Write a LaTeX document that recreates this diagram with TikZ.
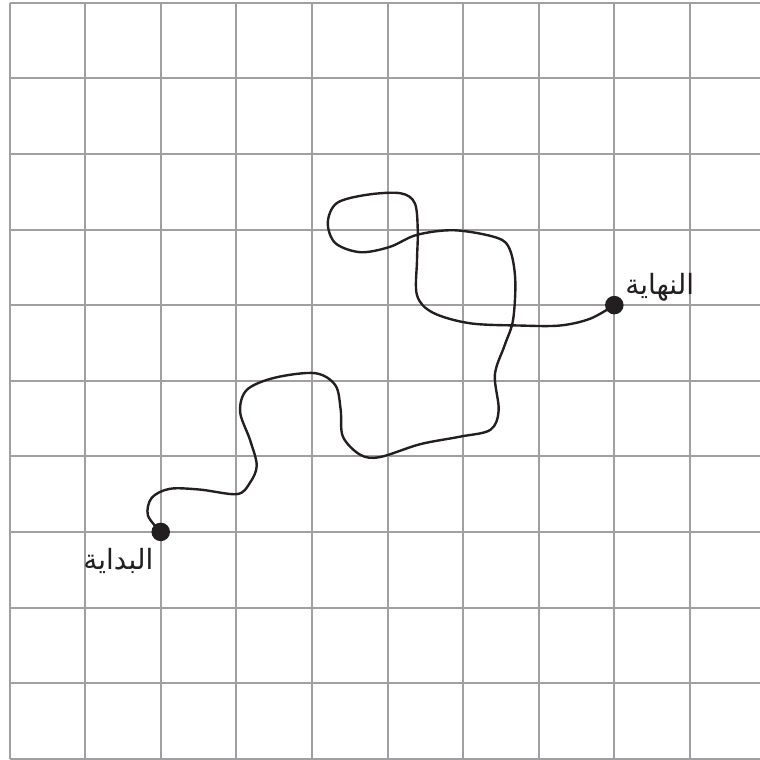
\documentclass[tikz,border=0pt]{standalone}
\usepackage{fontspec}
\newfontfamily\arabicfont[Script=Arabic]{DejaVu Sans}
\TeXXeTstate=1
\definecolor{gridgray}{HTML}{A0A0A3}
\definecolor{pathink}{HTML}{231F20}
\tikzset{
  gridline/.style={draw=gridgray, line width=0.75pt},
  walkline/.style={draw=pathink, line width=0.9pt, line cap=round},
  enddot/.style={circle, fill=pathink, inner sep=0pt, minimum size=0.245cm},
  arlabel/.style={font=\arabicfont\fontsize{10.5}{13}\selectfont, text=pathink, inner sep=0pt}
}
\begin{document}
\begin{tikzpicture}
\useasboundingbox (-0.126,-0.017) rectangle (9.927,10.036);
% grid
\foreach \x in {0,...,9}
  \draw[gridline] (\x,0) -- (\x,10);
\foreach \y in {0,...,10}
  \draw[gridline] (0,\y) -- (9.927,\y);
% start and end
\coordinate (start) at (2,3);
\coordinate (finish) at (8,6);
\draw[walkline] plot[smooth, tension=0.55] coordinates {
  (start) (1.83,3.22) (1.88,3.45) (2.12,3.57) (2.52,3.56) (3.01,3.50)
  (3.18,3.65) (3.27,3.88) (3.18,4.22) (3.05,4.59) (3.14,4.88) (3.51,5.04)
  (4.04,5.10) (4.31,4.94) (4.38,4.62) (4.41,4.26) (4.64,4.02) (4.90,3.99)
  (5.43,4.16) (5.96,4.26) (6.36,4.35) (6.47,4.61) (6.42,5.08) (6.55,5.47)
  (6.66,5.80) (6.69,6.33) (6.62,6.73) (6.45,6.89) (5.89,6.99) (5.39,6.93)
  (5.03,6.77) (4.64,6.70) (4.31,6.82) (4.21,7.09) (4.33,7.35) (4.73,7.46)
  (5.17,7.48) (5.36,7.35) (5.40,6.99) (5.39,6.59) (5.39,6.13) (5.60,5.90)
  (6.09,5.76) (6.75,5.73) (7.28,5.73) (7.68,5.82) (finish)};
\node[enddot] (startdot) at (start) {};
\node[enddot] (finishdot) at (finish) {};
\node[arlabel] (startlab) at (1.44,2.62) {\beginR البداية\endR};
\node[arlabel] (finishlab) at (8.6,6.24) {\beginR النهاية\endR};
\end{tikzpicture}
\end{document}
